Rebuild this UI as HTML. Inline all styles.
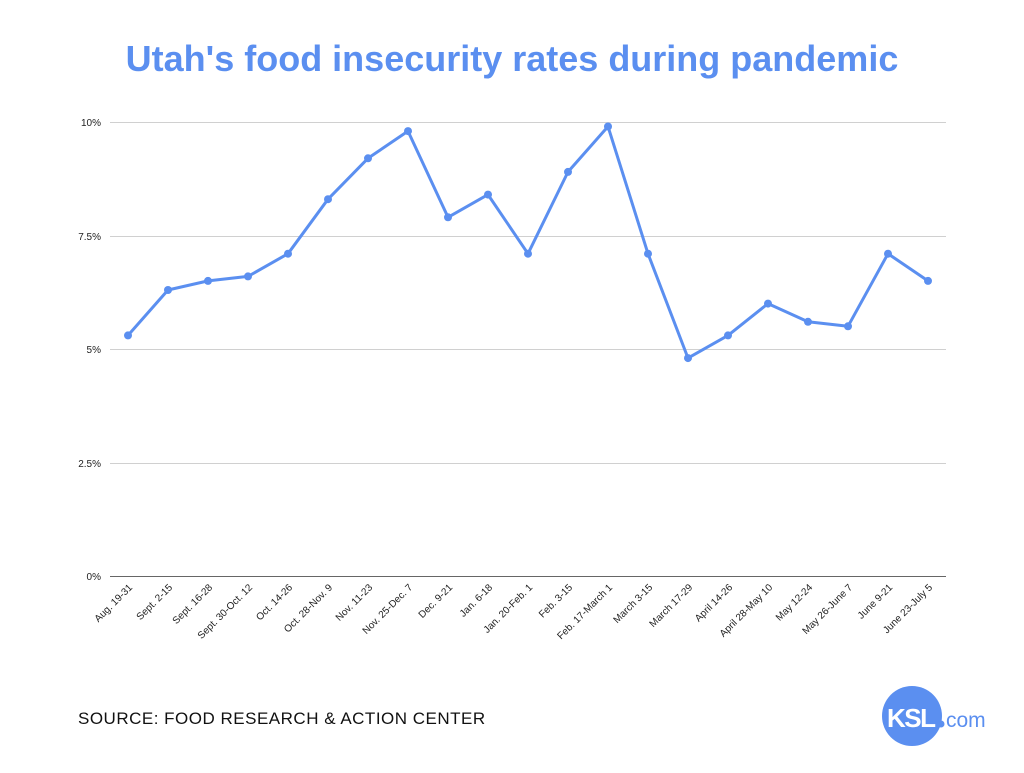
<!DOCTYPE html>
<html><head><meta charset="utf-8"><style>body{margin:0;background:#fff}</style></head><body>
<svg width="1024" height="768" xmlns="http://www.w3.org/2000/svg" font-family="Liberation Sans, sans-serif">
<rect width="1024" height="768" fill="#fff"/>
<text x="512" y="71" text-anchor="middle" font-size="36" font-weight="bold" fill="#5b8ff0">Utah's food insecurity rates during pandemic</text>
<g stroke="#d0d0d0" stroke-width="1">
<line x1="110" y1="122.5" x2="946" y2="122.5"/>
<line x1="110" y1="236.5" x2="946" y2="236.5"/>
<line x1="110" y1="349.5" x2="946" y2="349.5"/>
<line x1="110" y1="463.5" x2="946" y2="463.5"/>
</g>
<line x1="110" y1="576.5" x2="946" y2="576.5" stroke="#666" stroke-width="1"/>
<g font-size="10" fill="#222" text-anchor="end">
<text x="101" y="126">10%</text>
<text x="101" y="240">7.5%</text>
<text x="101" y="353">5%</text>
<text x="101" y="467">2.5%</text>
<text x="101" y="580">0%</text>
</g>
<polyline fill="none" stroke="#5b8ff0" stroke-width="3" stroke-linejoin="round" points="128,335.4 168,290 208,280.9 248,276.4 288,253.7 328,199.2 368,158.3 408,131.1 448,217.3 488,194.6 528,253.7 568,171.9 608,126.5 648,253.7 688,358.1 728,335.4 768,303.6 808,321.8 848,326.3 888,253.7 928,280.9"/>
<g fill="#5b8ff0">
<circle cx="128" cy="335.4" r="4"/><circle cx="168" cy="290" r="4"/><circle cx="208" cy="280.9" r="4"/><circle cx="248" cy="276.4" r="4"/><circle cx="288" cy="253.7" r="4"/><circle cx="328" cy="199.2" r="4"/><circle cx="368" cy="158.3" r="4"/><circle cx="408" cy="131.1" r="4"/><circle cx="448" cy="217.3" r="4"/><circle cx="488" cy="194.6" r="4"/><circle cx="528" cy="253.7" r="4"/><circle cx="568" cy="171.9" r="4"/><circle cx="608" cy="126.5" r="4"/><circle cx="648" cy="253.7" r="4"/><circle cx="688" cy="358.1" r="4"/><circle cx="728" cy="335.4" r="4"/><circle cx="768" cy="303.6" r="4"/><circle cx="808" cy="321.8" r="4"/><circle cx="848" cy="326.3" r="4"/><circle cx="888" cy="253.7" r="4"/><circle cx="928" cy="280.9" r="4"/>
</g>
<g font-size="10" fill="#222" text-anchor="end">
<text transform="translate(133,588) rotate(-45)">Aug. 19-31</text>
<text transform="translate(173,588) rotate(-45)">Sept. 2-15</text>
<text transform="translate(213,588) rotate(-45)">Sept. 16-28</text>
<text transform="translate(253,588) rotate(-45)">Sept. 30-Oct. 12</text>
<text transform="translate(293,588) rotate(-45)">Oct. 14-26</text>
<text transform="translate(333,588) rotate(-45)">Oct. 28-Nov. 9</text>
<text transform="translate(373,588) rotate(-45)">Nov. 11-23</text>
<text transform="translate(413,588) rotate(-45)">Nov. 25-Dec. 7</text>
<text transform="translate(453,588) rotate(-45)">Dec. 9-21</text>
<text transform="translate(493,588) rotate(-45)">Jan. 6-18</text>
<text transform="translate(533,588) rotate(-45)">Jan. 20-Feb. 1</text>
<text transform="translate(573,588) rotate(-45)">Feb. 3-15</text>
<text transform="translate(613,588) rotate(-45)">Feb. 17-March 1</text>
<text transform="translate(653,588) rotate(-45)">March 3-15</text>
<text transform="translate(693,588) rotate(-45)">March 17-29</text>
<text transform="translate(733,588) rotate(-45)">April 14-26</text>
<text transform="translate(773,588) rotate(-45)">April 28-May 10</text>
<text transform="translate(813,588) rotate(-45)">May 12-24</text>
<text transform="translate(853,588) rotate(-45)">May 26-June 7</text>
<text transform="translate(893,588) rotate(-45)">June 9-21</text>
<text transform="translate(933,588) rotate(-45)">June 23-July 5</text>
</g>
<text x="78" y="724" font-size="17" fill="#111" letter-spacing="0.5">SOURCE: FOOD RESEARCH &amp; ACTION CENTER</text>
<circle cx="912" cy="716" r="30" fill="#5b8ff0"/>
<text x="887" y="727" font-size="26" font-weight="bold" fill="#fff" letter-spacing="-1.5">KSL</text>
<circle cx="941" cy="724" r="3.5" fill="#5b8ff0"/>
<text x="946" y="727" font-size="21" fill="#5b8ff0">com</text>
</svg>
</body></html>
